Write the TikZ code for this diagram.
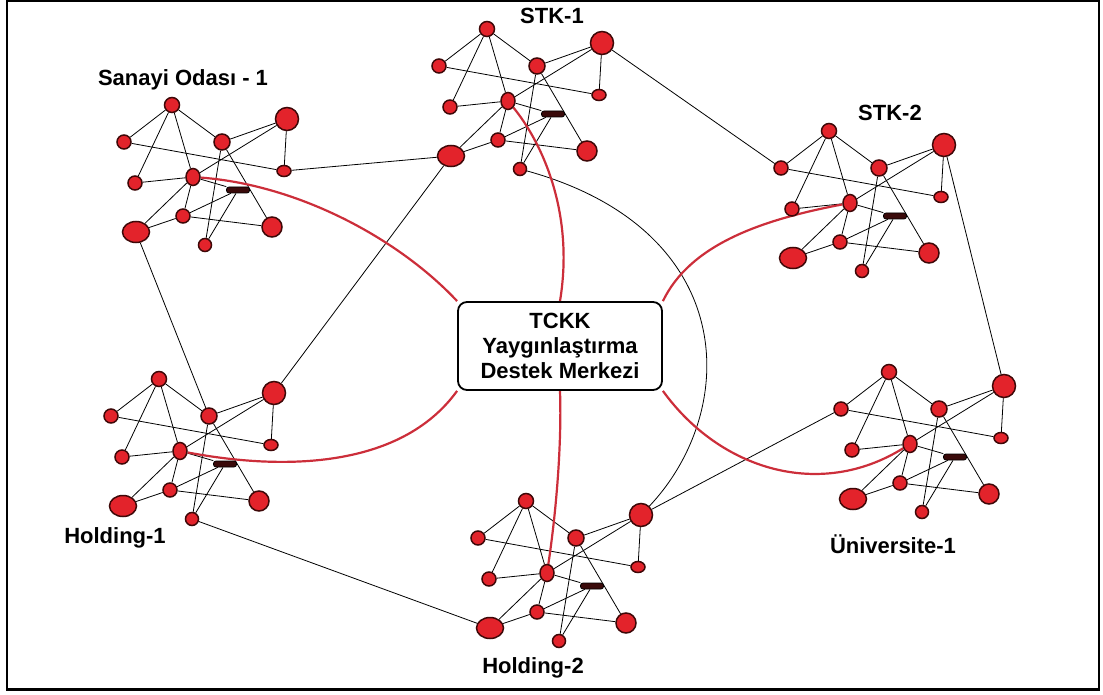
\documentclass[tikz,border=0pt]{standalone}
\usepackage{fontspec}
\setmainfont{Liberation Sans}
\usetikzlibrary{shapes.geometric,backgrounds}
\definecolor{nodered}{HTML}{E3232B}
\definecolor{noderim}{HTML}{3E0808}
\definecolor{linkred}{HTML}{CC2E3A}
\definecolor{barfill}{HTML}{3A0A0A}
\tikzset{
  dot/.style={circle,draw=noderim,fill=nodered,line width=1.5pt,
    inner sep=0pt,minimum size=#1},
  oval/.style 2 args={ellipse,draw=noderim,fill=nodered,line width=1.5pt,
    inner sep=0pt,minimum width=#1,minimum height=#2},
  bar/.style={rounded corners=2.5pt,draw=black,fill=barfill,line width=.8pt,
    inner sep=0pt,minimum width=23pt,minimum height=6pt},
  link/.style={draw=black,line width=.8pt},
  spoke/.style={draw=linkred,line width=2.2pt},
  grouplabel/.style={font=\bfseries\fontsize{22}{24}\selectfont},
  centre/.style={draw=black,line width=1.8pt,rounded corners=9pt,fill=white,
    minimum width=204pt,minimum height=88pt,align=center,
    font=\bfseries\fontsize{22}{25}\selectfont}
}

\begin{document}
\begin{tikzpicture}[x=1pt,y=-1pt]
\useasboundingbox (0,0) rectangle (1103,695);
\draw[line width=2.5pt] (7,1) rectangle (1099,689.5);

% six copies of the same small network
\foreach \g/\hx/\hy in {san/193/177,stka/508/101,stkb/850/203,
                        hola/180/451,holb/547/573,uni/910/444}{
  \begin{scope}[shift={(\hx,\hy)}]
    \node[dot=15pt] (\g-A) at (-21,-72) {};
    \node[dot=14pt] (\g-B) at (-69,-35) {};
    \node[dot=16pt] (\g-C) at (29,-35) {};
    \node[dot=23pt] (\g-D) at (94,-58) {};
    \node[oval={14pt}{11pt}] (\g-E) at (91,-6) {};
    \node[dot=14pt] (\g-F) at (-58,6) {};
    \node[oval={14pt}{17pt}] (\g-H) at (0,0) {};
    \node[bar] (\g-K) at (45,13) {};
    \node[dot=14pt] (\g-M) at (-10,39) {};
    \node[oval={27pt}{21pt}] (\g-L) at (-57,55) {};
    \node[dot=20pt] (\g-N) at (79,50) {};
    \node[dot=13pt] (\g-P) at (12,68) {};
  \end{scope}
}

\node[centre] (ctr) at (560,346) {TCKK\\Yayg\i nla\c st\i rma\\Destek Merkezi};

\node[grouplabel] (lsan) at (183,80) {Sanayi Odas\i\ - 1};
\node[grouplabel] (lstka) at (552,16) {STK-1};
\node[grouplabel] (lstkb) at (890,113) {STK-2};
\node[grouplabel] (lhola) at (115,538) {Holding-1};
\node[grouplabel] (lholb) at (533,668) {Holding-2};
\node[grouplabel] (luni) at (893,544) {\"Universite-1};

\begin{scope}[on background layer]
\foreach \g in {san,stka,stkb,hola,holb,uni}
  \foreach \u/\v in {A/B,A/F,A/H,A/C,B/E,C/D,C/P,C/N,D/E,D/H,
                     F/H,H/K,H/M,H/L,K/M,K/P,L/M,M/N}
    \draw[link] (\g-\u) -- (\g-\v);

% links between the groups
\draw[link] (san-E) -- (stka-L);
\draw[link] (stka-D) -- (stkb-B);
\draw[link] (stka-L) -- (hola-D);
\draw[link] (san-L) -- (hola-C);
\draw[link] (hola-P) -- (holb-L);
\draw[link] (holb-D) -- (uni-B);
\draw[link] (stkb-D) -- (uni-D);
\draw[link] (stka-P) .. controls (740,230) and (740,410) .. (holb-D);

% red spokes to the centre
\draw[spoke] (san-H) .. controls (300,185) and (400,240) .. (ctr.north west);
\draw[spoke] (stka-H) .. controls (540,140) and (575,210) .. (ctr.north);
\draw[spoke] (stkb-H) .. controls (760,220) and (690,245) .. (ctr.north east);
\draw[spoke] (hola-H) .. controls (280,470) and (400,470) .. (ctr.south west);
\draw[spoke] (holb-H) .. controls (555,520) and (562,450) .. (ctr.south);
\draw[spoke] (ctr.south east) .. controls (720,470) and (820,500) .. (uni-H);
\end{scope}
\end{tikzpicture}
\end{document}
